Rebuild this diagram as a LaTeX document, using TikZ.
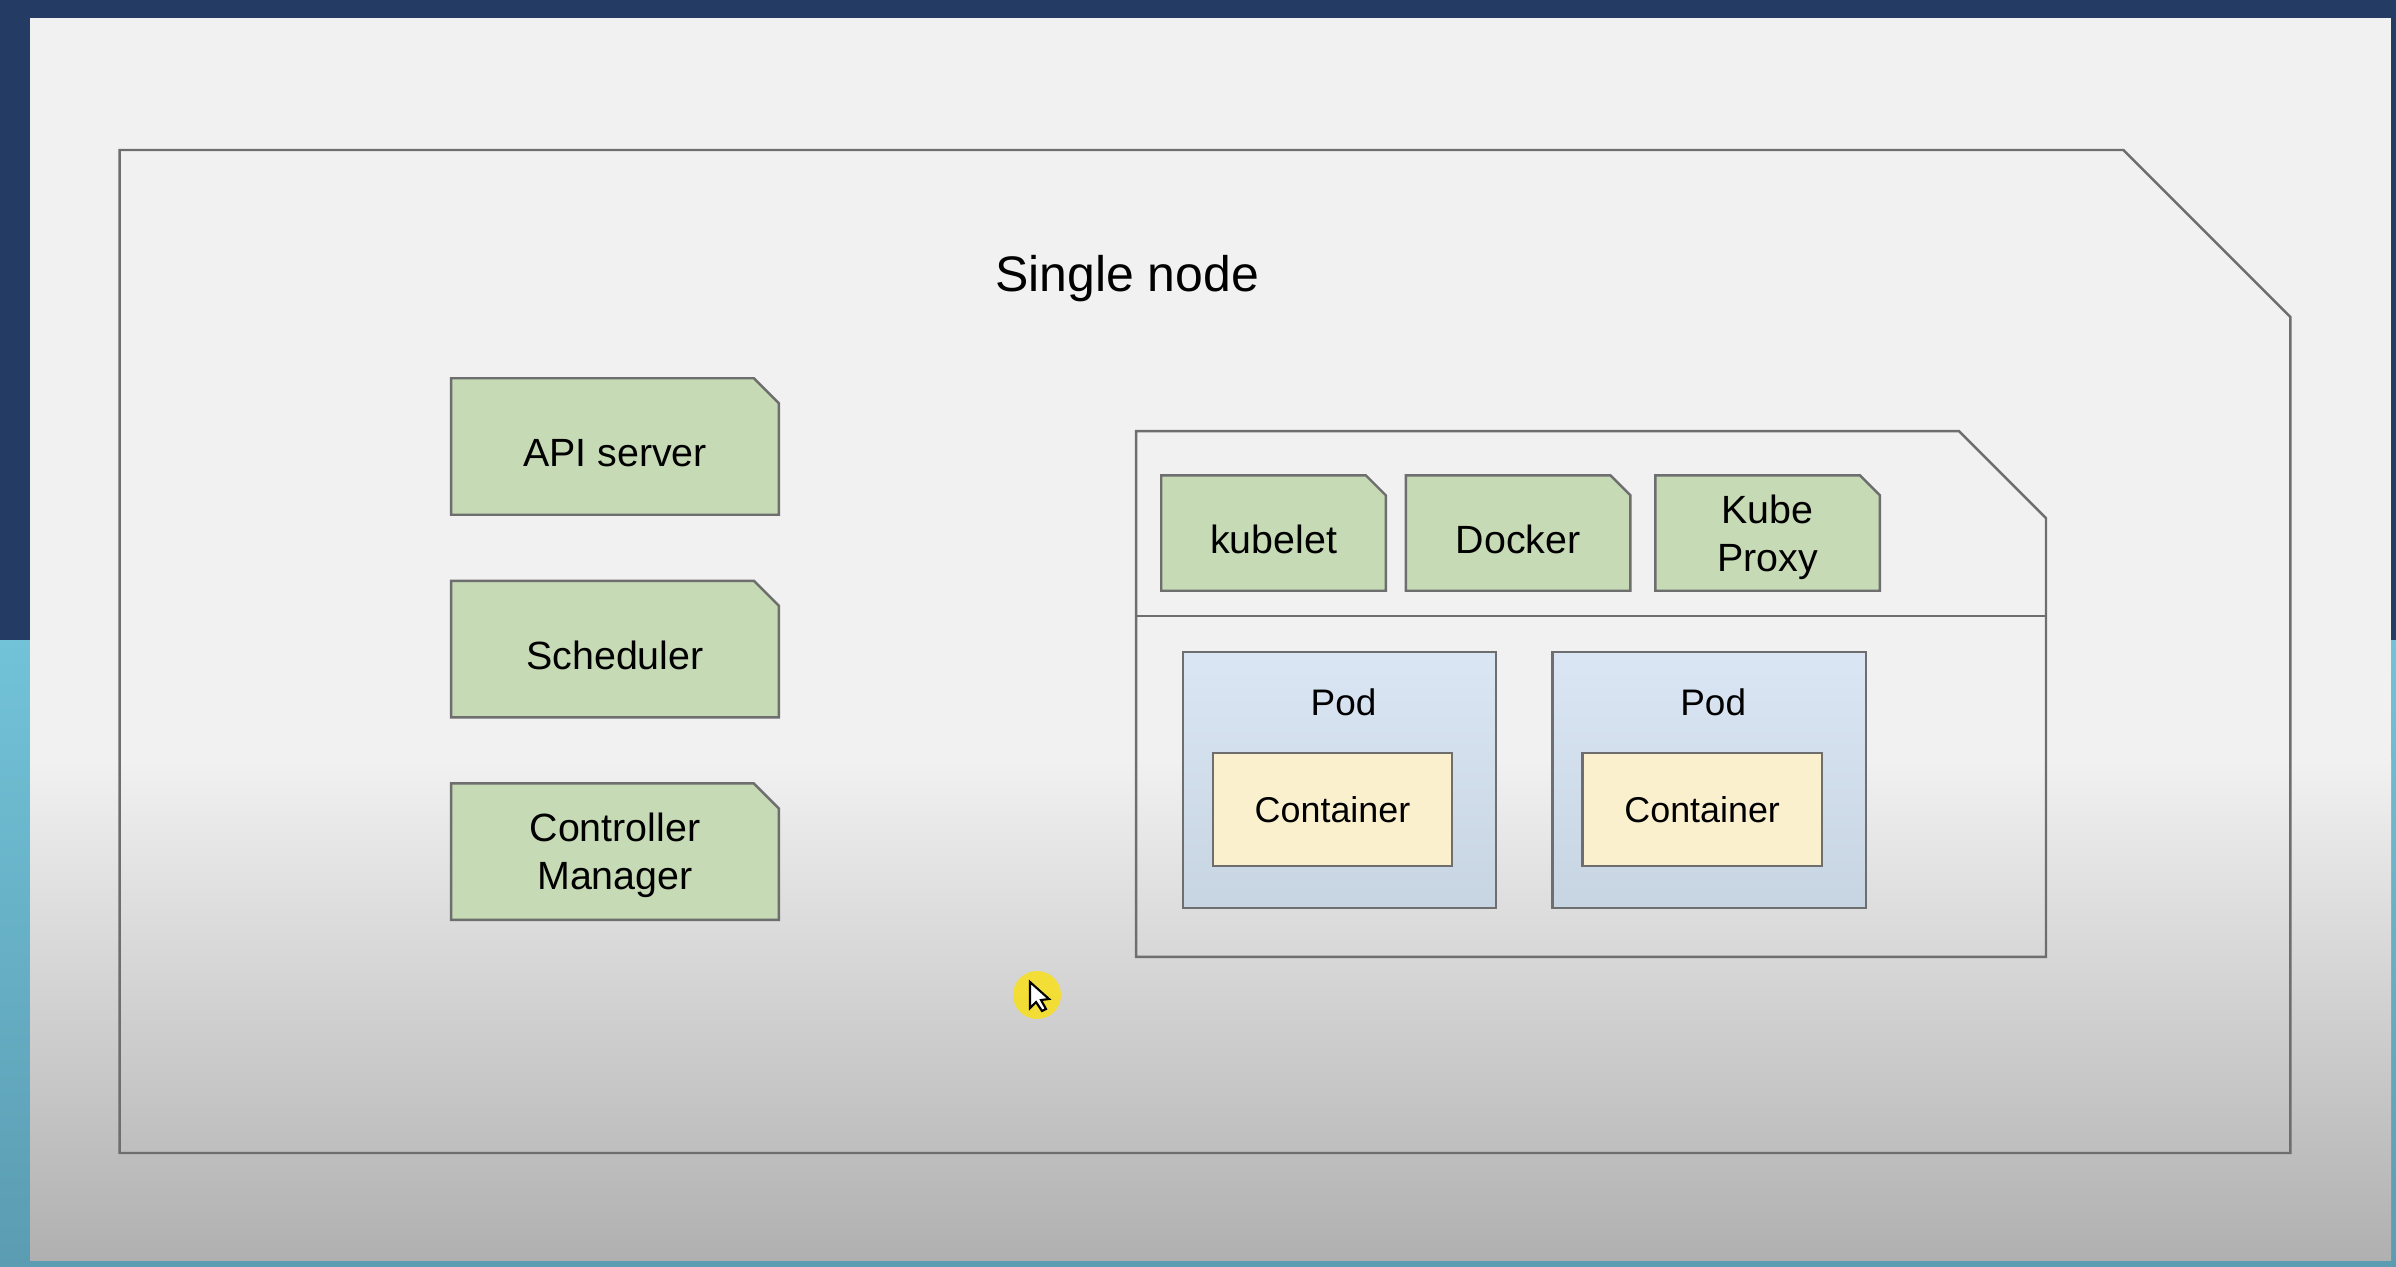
\documentclass[tikz,border=0pt]{standalone}
\usepackage{fontspec}
\setmainfont{Liberation Sans}
\usetikzlibrary{positioning,calc,backgrounds}
\definecolor{framenavy}{HTML}{243C64}
\definecolor{tealtop}{HTML}{72C3D8}
\definecolor{tealbot}{HTML}{5B9CB2}
\definecolor{slidetop}{HTML}{F1F1F1}
\definecolor{slidebot}{HTML}{B0B0B0}
\definecolor{linegray}{HTML}{6E6E6E}
\definecolor{compgreen}{HTML}{C6DAB5}
\definecolor{podtop}{HTML}{DAE6F3}
\definecolor{podbot}{HTML}{C7D4E1}
\definecolor{contfill}{HTML}{FBF0CE}
\tikzset{
frame/.style={
inner sep=0pt
},
comp/.style={
minimum width=3.26cm,
minimum height=1.35cm,
inner sep=0pt,
align=center,
font=\fontsize{11.2}{13.7}\selectfont
},
smallcomp/.style={
comp,
minimum width=2.23cm,
minimum height=1.14cm
},
oneline/.style={
text height=11.6pt
},
twolines/.style={
text depth=0pt
},
outline/.style={
draw=linegray,
line width=0.7pt
},
pod/.style={
draw=linegray,
line width=0.7pt,
top color=podtop,
bottom color=podbot,
minimum width=3.13cm,
minimum height=2.56cm,
inner sep=0pt
},
container/.style={
draw=linegray,
line width=0.7pt,
fill=contfill,
minimum width=2.39cm,
minimum height=1.13cm,
inner sep=0pt,
font=\fontsize{10.2}{13}\selectfont
},
podlabel/.style={
anchor=base,
inner sep=0pt,
font=\fontsize{10.5}{13}\selectfont
}
}
\begin{document}
\begin{tikzpicture}[x=0.01cm,y=-0.01cm]
\useasboundingbox (0,0) rectangle (2396,1266);

% single node frame
\node[frame,minimum width=21.68cm,minimum height=10.01cm] (node) at (1205,651.5) {};
\node[anchor=base,inner sep=0pt,font=\fontsize{14.2}{17}\selectfont] (title) at (1127,291) {Single node};

% control plane
\node[comp,oneline] (api) at (615,446.5) {API server};
\node[comp,oneline,below=0.66cm of api] (sched) {Scheduler};
\node[comp,twolines,below=0.66cm of sched] (ctrl) {Controller\\Manager};

% worker part
\node[frame,minimum width=9.08cm,minimum height=5.24cm] (worker) at (1591,694) {};
\coordinate (sep) at (1137,616);

\node[smallcomp,oneline] (kubelet) at (1273.5,533) {kubelet};
\node[smallcomp,oneline,right=0.2cm of kubelet] (docker) {Docker};
\node[smallcomp,twolines,right=0.25cm of docker] (proxy) {Kube\\Proxy};

\node[pod] (pod1) at (1339.5,780) {};
\node[pod,right=0.54cm of pod1] (pod2) {};
\node[podlabel] (pod1t) at ($(pod1.north)+(4,65)$) {Pod};
\node[podlabel] (pod2t) at ($(pod2.north)+(4,65)$) {Pod};
\node[container] (cont1) at ($(pod1.center)+(-7,29.5)$) {Container};
\node[container] (cont2) at ($(pod2.center)+(-7,29.5)$) {Container};

% pointer
\fill[yellow!85!orange,opacity=0.75] (1037,995) circle (24);
\draw[black,fill=white,line width=0.6pt] (1030,982) -- (1030,1008) -- (1036,1002) -- (1042,1011) -- (1046,1009) -- (1041,1000) -- (1049,999) -- cycle;

\begin{scope}[on background layer]
% screen behind the slide
\fill[framenavy] (0,0) rectangle (2396,1266);
\shade[top color=tealtop,bottom color=tealbot] (0,640) rectangle (2396,1266);
\fill[slidetop] (30,18) rectangle (2391,760);
\shade[top color=slidetop,bottom color=slidebot] (30,759) rectangle (2391,1260);
% cut-corner outlines
\foreach \n/\c/\f in {node/167/none,worker/87/none,api/25/compgreen,sched/25/compgreen,ctrl/25/compgreen,kubelet/20/compgreen,docker/20/compgreen,proxy/20/compgreen}
\draw[outline,fill=\f] (\n.south west) -- (\n.north west) -- ($(\n.north east)+(-\c,0)$) -- ($(\n.north east)+(0,\c)$) -- (\n.south east) -- cycle;
\draw[outline] (sep) -- (sep -| worker.east);
\end{scope}
\end{tikzpicture}
\end{document}
